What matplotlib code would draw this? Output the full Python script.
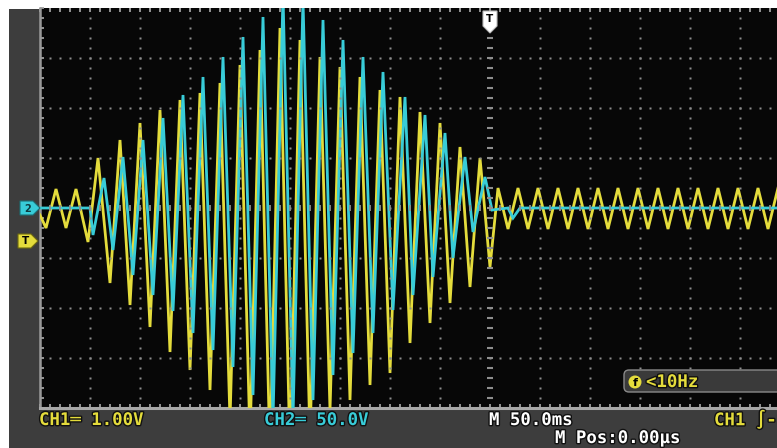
import numpy as np
import matplotlib
matplotlib.use("Agg")
import matplotlib.pyplot as plt
from matplotlib.patches import Rectangle, Polygon, FancyBboxPatch, Circle
import matplotlib.patheffects as pe

# ---------------- scope settings ----------------
TIME_PER_DIV = 50.0     # ms / div  (M 50.0ms)
CH1_V_PER_DIV = 1.00    # V / div
CH2_V_PER_DIV = 50.0    # V / div
T_LEFT_DIV, T_RIGHT_DIV = -9.0, 5.74   # visible part of the screen (divisions)

# ---------------- CH1 (yellow) trace: extrema ----------------
ch1_t = [-450, -444, -434, -424, -414, -402,
         -392, -380, -370, -360, -350, -340, -330, -320, -310, -300,
         -290, -280, -270, -260, -250, -240, -230, -220, -210, -200,
         -190, -180, -170, -160, -150, -140, -130, -120, -110, -100,
         -90, -80, -70, -60, -50, -40, -30, -20, -10, 0,
         8, 18, 28, 38, 48, 58, 68, 78, 88, 98, 108, 118, 128, 138, 148,
         158, 168, 178, 188, 198, 208, 218, 228, 238, 248, 258, 268, 278, 288]
ch1_v = [-0.14, -0.40, 0.38, -0.40, 0.38, -0.68,
         1.00, -1.50, 1.36, -1.94, 1.70, -2.38, 1.96, -2.88, 2.16, -3.24,
         2.30, -3.64, 2.50, -4.24, 2.86, -4.64, 3.16, -4.94, 3.60, -4.94,
         3.36, -4.64, 3.02, -4.04, 2.82, -3.84, 2.62, -3.54, 2.36, -3.30,
         2.22, -2.70, 1.92, -2.30, 1.70, -1.90, 1.22, -1.58, 1.00, -1.18,
         0.40, -0.42, 0.40, -0.42, 0.40, -0.42, 0.40, -0.42, 0.40, -0.42, 0.40, -0.42, 0.40, -0.42, 0.40,
         -0.42, 0.40, -0.42, 0.40, -0.42, 0.40, -0.42, 0.40, -0.42, 0.40, -0.42, 0.40, -0.42, 0.40]

# ---------------- CH2 (cyan) trace: extrema ----------------
ch2_t = [-450, -400, -397, -386, -377, -367, -357, -347, -337, -327, -317,
         -307, -297, -287, -277, -267, -257, -247, -237, -227, -217,
         -207, -197, -187, -177, -167, -157, -147, -137, -127, -117,
         -107, -97, -85, -77, -65, -57, -45, -37, -25, -17,
         -5, 2, 18, 23, 30, 287]
ch2_v = [0, 0, -27, 30, -42, 51, -67, 68, -87, 90, -103,
         113, -125, 131, -142, 151, -159, 171, -187, 191, -212,
         213, -210, 208, -192, 188, -167, 168, -145, 151, -125,
         136, -102, 111, -87, 93, -69, 75, -50, 51, -24,
         31, -2, 0, -10, 0, 0]

# ---------------- labels ----------------
ch1_label = "CH1\u2550 1.00V"
ch2_label = "CH2\u2550 50.0V"
time_label = "M 50.0ms"
pos_label = "M Pos:0.00\u03bcs"
trig_label = "CH1 \u222b-"
freq_label = "<10Hz"

YELLOW = "#e4dc3c"
CYAN = "#38ccd8"
PANEL = "#3d3d3d"
GRIDC = "#8e8e8e"
BLACK = "#070707"

W, H = 777, 448
fig = plt.figure(figsize=(W / 100, H / 100), dpi=100)
fig.patch.set_facecolor("white")

# gray instrument panel (background axes)
bg = fig.add_axes([0, 0, 1, 1], zorder=-5)
bg.set_xlim(0, W)
bg.set_ylim(H, 0)
bg.axis("off")
bg.add_patch(Rectangle((9, 9), W - 9, H - 9, facecolor=PANEL, edgecolor="none"))

# ---------------- screen axes (divisions) ----------------
scr_l, scr_r, scr_t, scr_b = 40, 777, 8, 408
ax = fig.add_axes([scr_l / W, (H - scr_b) / H, (scr_r - scr_l) / W, (scr_b - scr_t) / H],
                  zorder=1)
ax.set_facecolor(BLACK)
ax.set_xlim(T_LEFT_DIV, T_RIGHT_DIV)
ax.set_ylim(-4, 4)

# grid dots
minor = 0.2
ys = np.arange(-4 + minor, 4 - 1e-6, minor)
xs = np.arange(T_LEFT_DIV + minor, T_RIGHT_DIV, minor)
for gx in range(-8, 6):
    if gx == 0:
        continue
    ax.plot(np.full_like(ys, gx), ys, ls="none", marker="s", ms=1.6,
            mfc=GRIDC, mec="none", zorder=5)
for gy in range(-3, 4):
    if gy == 0:
        continue
    ax.plot(xs, np.full_like(xs, gy), ls="none", marker="s", ms=1.6,
            mfc=GRIDC, mec="none", zorder=5)
# centre lines with small tick dashes
ax.plot(np.zeros_like(ys), ys, ls="none", marker="_", ms=4.5, mew=1.5,
        color=GRIDC, zorder=5)
ax.plot(xs, np.zeros_like(xs), ls="none", marker="|", ms=4.0, mew=1.3,
        color=GRIDC, zorder=5)

# traces
t1 = np.array(ch1_t) / TIME_PER_DIV
y1 = np.array(ch1_v) / CH1_V_PER_DIV
t2 = np.array(ch2_t) / TIME_PER_DIV
y2 = np.array(ch2_v) / CH2_V_PER_DIV
ax.plot(t1, y1, color=YELLOW, lw=2.0, zorder=3, solid_joinstyle="miter")
ax.plot(t2, y2, color=CYAN, lw=2.0, zorder=4, solid_joinstyle="miter")

# border and ticks
for s in ("top", "right"):
    ax.spines[s].set_visible(False)
ax.spines["left"].set_color("#9a9a9a")
ax.spines["left"].set_linewidth(1.8)
ax.spines["bottom"].set_color("#a8a8a8")
ax.spines["bottom"].set_linewidth(2.2)
ax.set_xticks(np.arange(T_LEFT_DIV, T_RIGHT_DIV, minor))
ax.set_yticks(np.arange(-4, 4.001, minor))
ax.tick_params(axis="x", direction="in", length=3.0, width=1.3, colors="#a0a0a0",
               top=True, bottom=True, labelbottom=False)
ax.tick_params(axis="y", direction="in", length=3.0, width=1.3, colors="#a0a0a0",
               left=True, right=False, labelleft=False)

# ---------------- overlay (pixel space) for markers & status text ----------------
ov = fig.add_axes([0, 0, 1, 1], zorder=10)
ov.set_xlim(0, W)
ov.set_ylim(H, 0)
ov.axis("off")
ov.patch.set_alpha(0)

# CH2 ground marker
ov.add_patch(Polygon([(20, 201), (33, 201), (40, 208), (33, 215), (20, 215)],
                     closed=True, facecolor=CYAN, edgecolor="#1c6e74", lw=0.8))
ov.text(28, 208.5, "2", ha="center", va="center", fontsize=7, color="#0d3c40",
        fontweight="bold", family="DejaVu Sans")
# trigger level marker
ov.add_patch(Polygon([(18, 234), (31, 234), (38, 241), (31, 248), (18, 248)],
                     closed=True, facecolor=YELLOW, edgecolor="#6e6a10", lw=0.8))
ov.text(26, 241.5, "T", ha="center", va="center", fontsize=7.5, color="black",
        fontweight="bold", family="DejaVu Sans")
# trigger position marker
ov.add_patch(Polygon([(483, 11), (497, 11), (497, 26), (490, 33), (483, 26)],
                     closed=True, facecolor="white", edgecolor="#bbbbbb", lw=0.8))
ov.text(490, 19.5, "T", ha="center", va="center", fontsize=7.5, color="black",
        fontweight="bold", family="DejaVu Sans")

# frequency counter box
ov.add_patch(FancyBboxPatch((624, 370), 200, 22, boxstyle="round,pad=0,rounding_size=5",
                            facecolor="#3a3a3a", edgecolor="#8a8a8a", lw=1.0))
ov.add_patch(Circle((635, 382), 6.5, facecolor=YELLOW, edgecolor="none"))
ov.text(635, 382.5, "f", ha="center", va="center", fontsize=8, color="black",
        fontweight="bold", family="DejaVu Sans")

fam = ["DejaVu Sans Mono", "DejaVu Sans"]
outline = [pe.withStroke(linewidth=2.0, foreground="#111111")]
txt = dict(fontsize=12.5, family=fam, fontweight="bold", va="center", ha="left",
           path_effects=outline)
ov.text(646, 382, freq_label, color=YELLOW, **txt)
ov.text(39, 420, ch1_label, color=YELLOW, **txt)
ov.text(264, 420, ch2_label, color=CYAN, **txt)
ov.text(489, 420, time_label, color="white", **txt)
ov.text(555, 438, pos_label, color="white", **txt)
ov.text(714, 420, trig_label, color=YELLOW, **txt)

fig.savefig("out.png", dpi=100)
